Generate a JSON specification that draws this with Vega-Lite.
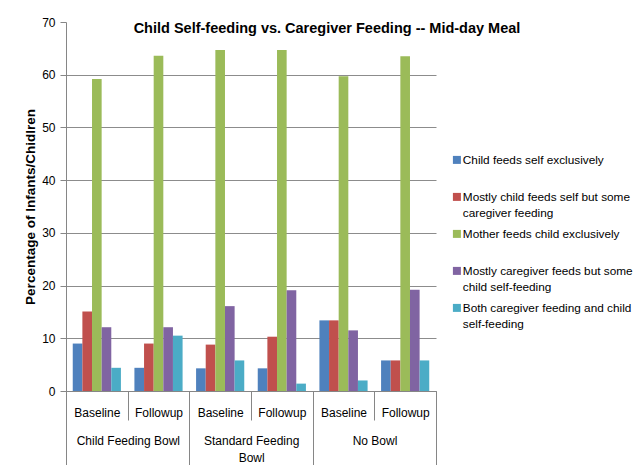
{
  "$schema": "https://vega.github.io/schema/vega-lite/v6.json",
  "width": 370,
  "height": 369,
  "autosize": {"type": "none"},
  "padding": {"left": 66, "top": 22, "right": 197, "bottom": 74},
  "background": "white",
  "title": {
    "text": "Child Self-feeding vs. Caregiver Feeding -- Mid-day Meal",
    "font": "Liberation Sans",
    "fontSize": 14.5,
    "fontWeight": "bold",
    "color": "black",
    "anchor": "middle",
    "frame": "group",
    "baseline": "alphabetic",
    "dx": 76,
    "dy": 21,
    "offset": -10
  },
  "config": {
    "view": {"stroke": null},
    "font": "Liberation Sans",
    "style": {"guide-label": {"lineHeight": 15.7}}
  },
  "data": {
    "values": [
      {"cat": "Child Feeding Bowl|Baseline", "series": "Child feeds self exclusively", "value": 9.0},
      {"cat": "Child Feeding Bowl|Baseline", "series": "Mostly child feeds self but some caregiver feeding", "value": 15.1},
      {"cat": "Child Feeding Bowl|Baseline", "series": "Mother feeds child exclusively", "value": 59.2},
      {"cat": "Child Feeding Bowl|Baseline", "series": "Mostly caregiver feeds but some child self-feeding", "value": 12.1},
      {"cat": "Child Feeding Bowl|Baseline", "series": "Both caregiver feeding and child self-feeding", "value": 4.4},
      {"cat": "Child Feeding Bowl|Followup", "series": "Child feeds self exclusively", "value": 4.4},
      {"cat": "Child Feeding Bowl|Followup", "series": "Mostly child feeds self but some caregiver feeding", "value": 9.0},
      {"cat": "Child Feeding Bowl|Followup", "series": "Mother feeds child exclusively", "value": 63.6},
      {"cat": "Child Feeding Bowl|Followup", "series": "Mostly caregiver feeds but some child self-feeding", "value": 12.1},
      {"cat": "Child Feeding Bowl|Followup", "series": "Both caregiver feeding and child self-feeding", "value": 10.5},
      {"cat": "Standard Feeding Bowl|Baseline", "series": "Child feeds self exclusively", "value": 4.3},
      {"cat": "Standard Feeding Bowl|Baseline", "series": "Mostly child feeds self but some caregiver feeding", "value": 8.8},
      {"cat": "Standard Feeding Bowl|Baseline", "series": "Mother feeds child exclusively", "value": 64.7},
      {"cat": "Standard Feeding Bowl|Baseline", "series": "Mostly caregiver feeds but some child self-feeding", "value": 16.1},
      {"cat": "Standard Feeding Bowl|Baseline", "series": "Both caregiver feeding and child self-feeding", "value": 5.8},
      {"cat": "Standard Feeding Bowl|Followup", "series": "Child feeds self exclusively", "value": 4.3},
      {"cat": "Standard Feeding Bowl|Followup", "series": "Mostly child feeds self but some caregiver feeding", "value": 10.3},
      {"cat": "Standard Feeding Bowl|Followup", "series": "Mother feeds child exclusively", "value": 64.7},
      {"cat": "Standard Feeding Bowl|Followup", "series": "Mostly caregiver feeds but some child self-feeding", "value": 19.1},
      {"cat": "Standard Feeding Bowl|Followup", "series": "Both caregiver feeding and child self-feeding", "value": 1.4},
      {"cat": "No Bowl|Baseline", "series": "Child feeds self exclusively", "value": 13.4},
      {"cat": "No Bowl|Baseline", "series": "Mostly child feeds self but some caregiver feeding", "value": 13.4},
      {"cat": "No Bowl|Baseline", "series": "Mother feeds child exclusively", "value": 59.7},
      {"cat": "No Bowl|Baseline", "series": "Mostly caregiver feeds but some child self-feeding", "value": 11.5},
      {"cat": "No Bowl|Baseline", "series": "Both caregiver feeding and child self-feeding", "value": 2.0},
      {"cat": "No Bowl|Followup", "series": "Child feeds self exclusively", "value": 5.8},
      {"cat": "No Bowl|Followup", "series": "Mostly child feeds self but some caregiver feeding", "value": 5.8},
      {"cat": "No Bowl|Followup", "series": "Mother feeds child exclusively", "value": 63.5},
      {"cat": "No Bowl|Followup", "series": "Mostly caregiver feeds but some child self-feeding", "value": 19.2},
      {"cat": "No Bowl|Followup", "series": "Both caregiver feeding and child self-feeding", "value": 5.8}
    ]
  },
  "layer": [
    {
      "mark": {"type": "bar"},
      "encoding": {
        "x": {
          "field": "cat",
          "type": "nominal",
          "sort": ["Child Feeding Bowl|Baseline", "Child Feeding Bowl|Followup", "Standard Feeding Bowl|Baseline", "Standard Feeding Bowl|Followup", "No Bowl|Baseline", "No Bowl|Followup"],
          "scale": {"paddingInner": 0, "paddingOuter": 0},
          "axis": {
            "title": null,
            "orient": "bottom",
            "labelExpr": "datum.index < 0 ? '' : split('' + datum.value, '|')[1]",
            "labelAngle": 0,
            "labelFont": "Liberation Sans",
            "labelFontSize": 12,
            "labelColor": "black",
            "labelBaseline": "top",
            "labelPadding": -13,
            "tickBand": "extent",
            "tickSize": 29,
            "tickColor": "#868686",
            "domainColor": "#868686",
            "grid": false
          }
        },
        "xOffset": {
          "field": "series",
          "type": "nominal",
          "sort": ["Child feeds self exclusively", "Mostly child feeds self but some caregiver feeding", "Mother feeds child exclusively", "Mostly caregiver feeds but some child self-feeding", "Both caregiver feeding and child self-feeding"],
          "scale": {"paddingInner": 0, "paddingOuter": 0.7}
        },
        "y": {
          "field": "value",
          "type": "quantitative",
          "scale": {"domain": [0, 70]},
          "axis": {
            "title": "Percentage of Infants/Chidlren",
            "titleFont": "Liberation Sans",
            "titleFontSize": 13.5,
            "titleFontWeight": "bold",
            "titleColor": "black",
            "titlePadding": 4,
            "values": [0, 10, 20, 30, 40, 50, 60, 70],
            "labelFont": "Liberation Sans",
            "labelFontSize": 12,
            "labelColor": "black",
            "labelPadding": 5,
            "tickSize": 6,
            "tickColor": "#868686",
            "domainColor": "#868686",
            "gridColor": "#8c8c8c",
            "gridOpacity": {"condition": {"test": "datum.value == 70", "value": 0}, "value": 1}
          }
        },
        "color": {
          "field": "series",
          "type": "nominal",
          "scale": {
            "domain": ["Child feeds self exclusively", "Mostly child feeds self but some caregiver feeding", "Mother feeds child exclusively", "Mostly caregiver feeds but some child self-feeding", "Both caregiver feeding and child self-feeding"],
            "range": ["#4F81BD", "#C0504D", "#9BBB59", "#8064A2", "#4BACC6"]
          },
          "legend": {
            "title": null,
            "orient": "none",
            "legendX": 385,
            "legendY": 132,
            "symbolType": "square",
            "symbolSize": 64,
            "symbolStrokeWidth": 0,
            "labelFont": "Liberation Sans",
            "labelFontSize": 11.8,
            "labelColor": "black",
            "labelLimit": 400,
            "labelOffset": 0,
            "labelBaseline": "middle",
            "rowPadding": 8,
            "padding": 0,
            "labelExpr": "datum.label == 'Mostly child feeds self but some caregiver feeding' ? ['Mostly child feeds self but some', 'caregiver feeding'] : datum.label == 'Mostly caregiver feeds but some child self-feeding' ? ['Mostly caregiver feeds but some', 'child self-feeding'] : datum.label == 'Both caregiver feeding and child self-feeding' ? ['Both caregiver feeding and child', 'self-feeding'] : [datum.label, '']"
          }
        }
      }
    },
    {
      "mark": {"type": "point", "opacity": 0},
      "encoding": {
        "x": {
          "field": "cat",
          "type": "nominal",
          "sort": ["Child Feeding Bowl|Baseline", "Child Feeding Bowl|Followup", "Standard Feeding Bowl|Baseline", "Standard Feeding Bowl|Followup", "No Bowl|Baseline", "No Bowl|Followup"],
          "scale": {"paddingInner": 0, "paddingOuter": 0},
          "axis": {
            "title": null,
            "orient": "bottom",
            "domain": false,
            "grid": false,
            "labelExpr": "datum.index < 0 ? '' : test(/Baseline/, '' + datum.value) ? (test(/Standard/, '' + datum.value) ? ['Standard Feeding', 'Bowl'] : split('' + datum.value, '|')[0]) : ''",
            "labelAngle": 0,
            "labelOffset": 31,
            "labelFont": "Liberation Sans",
            "labelFontSize": 12,
            "labelColor": "black",
            "labelBaseline": "top",
            "labelLineHeight": 17,
            "labelPadding": -30,
            "tickBand": "extent",
            "tickSize": 74,
            "tickColor": "#868686",
            "tickOpacity": {"condition": {"test": "datum.index < 0 || test(/Followup/, '' + datum.value)", "value": 1}, "value": 0}
          }
        }
      }
    }
  ],
  "resolve": {"axis": {"x": "independent"}}
}
